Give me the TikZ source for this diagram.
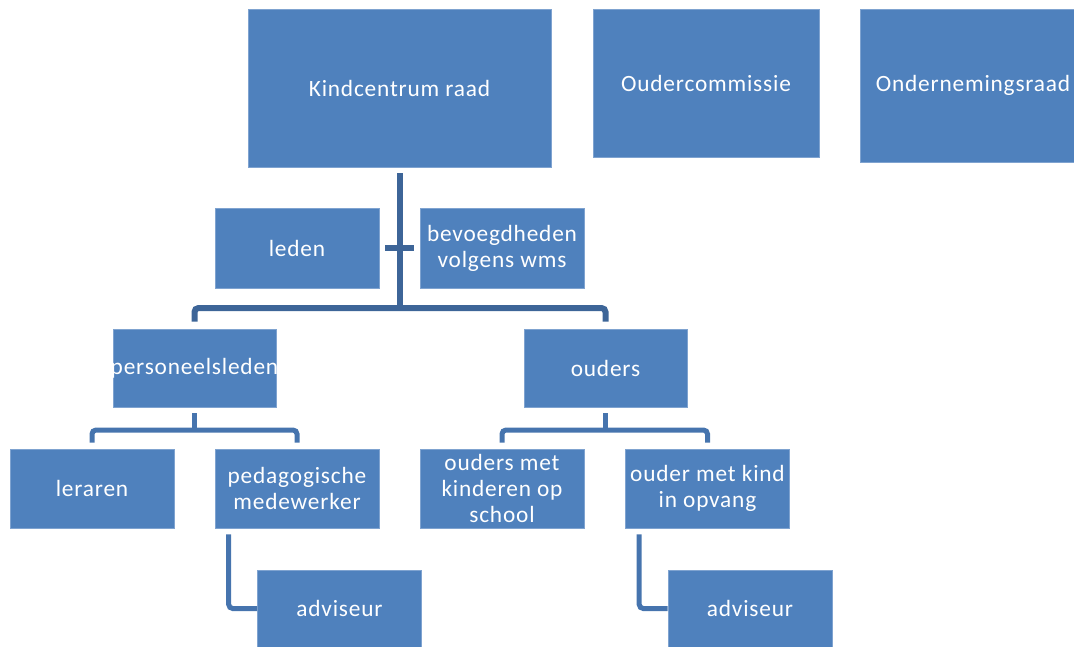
\documentclass[tikz,border=0pt]{standalone}
\usepackage{fontspec}
\setmainfont{Carlito}[LetterSpace=3.5]
\newlength\px
\setlength\px{0.75pt}
\definecolor{boxblue}{HTML}{4F81BD}
\definecolor{boxedge}{HTML}{7FA3D0}
\definecolor{trunkblue}{HTML}{3D6598}
\definecolor{subblue}{HTML}{4674AE}
\tikzset{
  orgbox/.style={rectangle, fill=boxblue, draw=boxedge, line width=0.4pt,
    inner sep=0pt, align=center, text=white,
    font=\fontsize{17.5}{19.5}\selectfont},
  trunk/.style={draw=trunkblue, line width=6\px},
  subline/.style={draw=subblue, line width=5\px, rounded corners=4\px},
}
\begin{document}
\begin{tikzpicture}[x=1\px, y=-1\px]
\useasboundingbox (0,0) rectangle (1074,646);
% top row
\node[orgbox, minimum width=303\px, minimum height=158\px] (kcr) at (399.5,88) {Kindcentrum raad};
\node[orgbox, minimum width=226\px, minimum height=148\px] (oc) at (706,83) {Oudercommissie};
\node[orgbox, minimum width=226\px, minimum height=153\px] (onr) at (973,85.5) {Ondernemingsraad};
% second row
\node[orgbox, minimum width=164\px, minimum height=80\px] (leden) at (297,248) {leden};
\node[orgbox, minimum width=164\px, minimum height=80\px] (bev) at (502,248) {bevoegdheden\\volgens wms};
% third row
\node[orgbox, minimum width=163\px, minimum height=78\px, inner xsep=-4\px] (pers) at (194.5,368) {personeelsleden};
\node[orgbox, minimum width=163\px, minimum height=78\px] (oud) at (605.5,368) {ouders};
% fourth row
\node[orgbox, minimum width=164\px, minimum height=79\px] (ler) at (92,488.5) {leraren};
\node[orgbox, minimum width=164\px, minimum height=79\px] (ped) at (297,488.5) {pedagogische\\medewerker};
\node[orgbox, minimum width=164\px, minimum height=79\px] (omk) at (502,488.5) {ouders met\\kinderen op\\school};
\node[orgbox, minimum width=164\px, minimum height=79\px] (omki) at (707.5,488.5) {ouder met kind\\in opvang};
% advisers
\node[orgbox, minimum width=164\px, minimum height=77\px] (adv1) at (339.5,608.5) {adviseur};
\node[orgbox, minimum width=164\px, minimum height=77\px] (adv2) at (750,608.5) {adviseur};
% connectors
\coordinate (bar) at (399.5,308);
\draw[trunk, shorten <=6\px] (kcr.south) -- (bar);
\draw[trunk, shorten <=6\px, shorten >=6\px] (leden.east) -- (bev.west);
\draw[trunk, rounded corners=4\px, shorten <=7\px, shorten >=7\px] (pers.north) |- (bar) -| (oud.north);
\coordinate (pb) at (194.5,430);
\coordinate (ob) at (605.5,430);
\draw[subline, shorten <=6\px] (pers.south) -- (pb);
\draw[subline, shorten <=6\px, shorten >=6\px] (ler.north) |- (pb) -| (ped.north);
\draw[subline, shorten <=6\px] (oud.south) -- (ob);
\draw[subline, shorten <=6\px, shorten >=6\px] (omk.north) |- (ob) -| (omki.north);
\coordinate (p1) at ([xshift=14\px]ped.south west);
\coordinate (p2) at ([xshift=14\px]omki.south west);
\draw[subline, shorten <=6\px] (p1) |- (adv1.west);
\draw[subline, shorten <=6\px] (p2) |- (adv2.west);
\end{tikzpicture}
\end{document}
